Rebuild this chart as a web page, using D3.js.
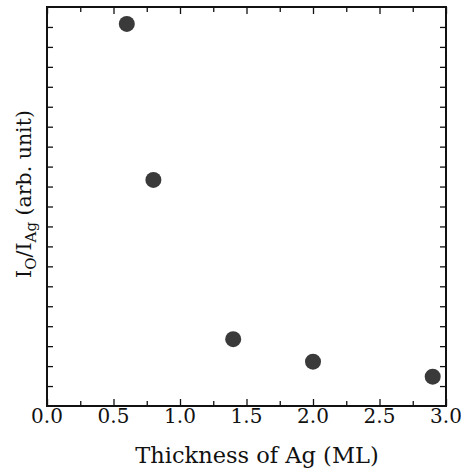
<!DOCTYPE html>
<html>
<head>
<meta charset="utf-8">
<script src="https://cdn.jsdelivr.net/npm/d3@7"></script>
<style>
  body { margin: 0; background: #fff; }
  text { font-family: "DejaVu Serif", "Liberation Serif", serif; fill: #111; }
</style>
</head>
<body>
<div id="chart"></div>
<script>
// data
const thickness = [0.6, 0.8, 1.4, 2.0, 2.9];
const ratio = [19.15, 11.33, 3.35, 2.22, 1.47];
const xTickLabels = ["0.0", "0.5", "1.0", "1.5", "2.0", "2.5", "3.0"];

const width = 461, height = 472;
const margin = {top: 7, right: 15, bottom: 66, left: 47};
const w = width - margin.left - margin.right;
const h = height - margin.top - margin.bottom;

const svg = d3.select("#chart").append("svg")
  .attr("width", width)
  .attr("height", height);

const g = svg.append("g")
  .attr("transform", `translate(${margin.left},${margin.top})`);

const x = d3.scaleLinear().domain([0, 3]).range([0, w]);
const y = d3.scaleLinear().domain([0, 20]).range([h, 0]);

const minorX = d3.range(0, 3.001, 0.25);
const majorX = xTickLabels.map(Number);
const yTicks = d3.range(1, 20);

// bottom axis, ticks pointing in
const xBottom = g.append("g")
  .attr("transform", `translate(0,${h})`)
  .call(d3.axisBottom(x).tickValues(minorX).tickSize(-5).tickFormat(""));
xBottom.selectAll(".tick line")
  .attr("y2", d => majorX.includes(d) ? -7 : -5);

const xLabels = g.append("g")
  .attr("transform", `translate(0,${h})`);
xLabels.selectAll("text")
  .data(majorX)
  .enter()
  .append("text")
  .attr("x", d => x(d))
  .attr("y", 17)
  .attr("text-anchor", "middle")
  .style("font-size", "20px")
  .text((d, i) => xTickLabels[i]);

const xTop = g.append("g")
  .call(d3.axisTop(x).tickValues(minorX).tickSize(-5).tickFormat(""));
xTop.selectAll(".tick line")
  .attr("y2", d => majorX.includes(d) ? 7 : 5);

g.append("g")
  .call(d3.axisLeft(y).tickValues(yTicks).tickSize(-6).tickFormat(""));
g.append("g")
  .attr("transform", `translate(${w},0)`)
  .call(d3.axisRight(y).tickValues(yTicks).tickSize(-6).tickFormat(""));

g.selectAll(".domain").remove();
g.selectAll(".tick line").attr("stroke", "#111").attr("stroke-width", 1.3);

// frame
g.append("rect")
  .attr("width", w)
  .attr("height", h)
  .attr("fill", "none")
  .attr("stroke", "#111")
  .attr("stroke-width", 2);

// points
g.selectAll("circle.pt")
  .data(thickness)
  .enter()
  .append("circle")
  .attr("class", "pt")
  .attr("cx", d => x(d))
  .attr("cy", (d, i) => y(ratio[i]))
  .attr("r", 8)
  .attr("fill", "#3a3a3a");

// x title
svg.append("text")
  .attr("x", 257)
  .attr("y", 463)
  .attr("text-anchor", "middle")
  .style("font-size", "22.5px")
  .text("Thickness of Ag (ML)");

// y title
const yt = svg.append("text")
  .attr("transform", "translate(31,194) rotate(-90)")
  .attr("text-anchor", "middle")
  .style("font-size", "20.5px");
yt.append("tspan").text("I");
yt.append("tspan").attr("dy", 5).style("font-size", "15px").text("O");
yt.append("tspan").attr("dy", -5).text("/I");
yt.append("tspan").attr("dy", 5).style("font-size", "15px").text("Ag");
yt.append("tspan").attr("dy", -5).text(" (arb. unit)");
</script>
</body>
</html>
